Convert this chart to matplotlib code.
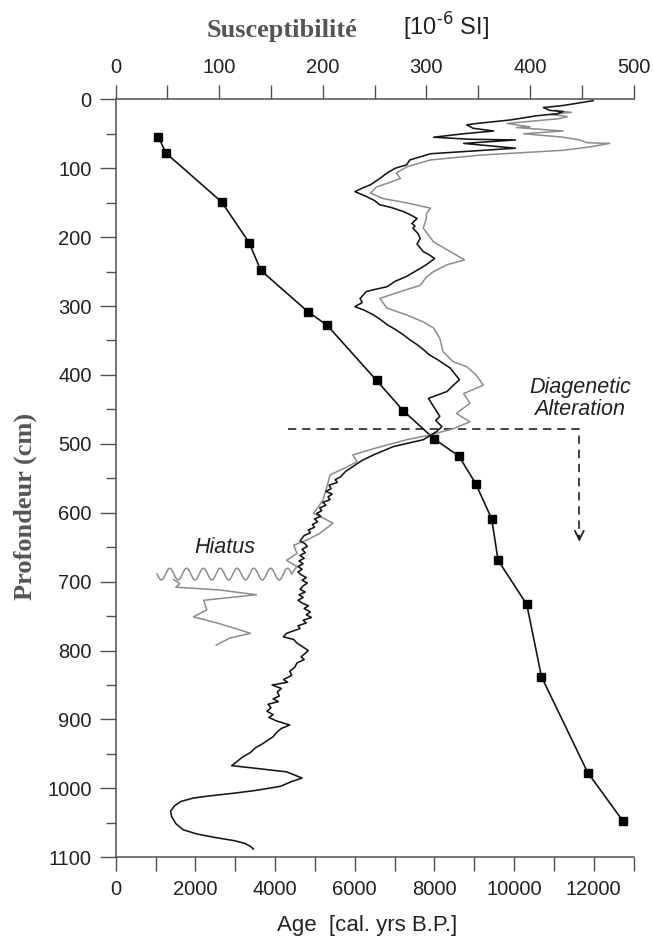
import numpy as np
import matplotlib
matplotlib.use("Agg")
import matplotlib.pyplot as plt

# ---------------- data ----------------
# Age-depth model (cal. yrs B.P. vs depth cm)
age_years = [1070, 1260, 2660, 3350, 3640, 4820, 5310, 6550, 7220, 8000,
             8620, 9040, 9440, 9600, 10320, 10690, 11850, 12730]
age_depth = [54, 78, 149, 208, 248, 308, 328, 408, 452, 493,
             518, 558, 609, 669, 733, 838, 977, 1047]

# Susceptibility, black record (10^-6 SI) vs depth (cm)
black_sus = [461, 432, 413, 419, 432, 426, 406, 381, 349, 339, 345, 365, 336, 307, 342, 386, 336, 386,
             304, 295, 284, 281, 270, 262, 255, 246, 238, 231, 242, 250, 255, 266, 278, 285, 291, 286,
             289, 287, 292, 294, 291, 297, 303, 308, 300, 291, 281, 270, 262, 250, 242, 236, 238, 231,
             240, 249, 256, 262, 270, 278, 284, 291, 297, 303, 310, 316, 323, 332, 326, 320, 302, 307,
             313, 309, 315, 310, 297, 268, 249, 238, 229, 222,
             217, 212, 214, 206, 208, 203, 209, 205, 207, 200, 203, 197, 199, 194, 198, 192, 195, 190,
             192, 186, 188, 182, 180, 178, 183, 185, 180, 183, 178, 182, 177, 181, 176, 180, 176, 179,
             184, 180, 185, 181, 178, 183, 177, 181, 176, 180, 186, 182, 188, 184, 189, 181, 184, 176,
             178, 165, 162, 172, 175, 181, 186, 183, 179, 182, 175, 173, 168, 170, 162, 166, 151, 160,
             156, 158, 152, 157, 147, 150, 146, 152, 148, 155, 168, 160, 156, 152, 147, 141, 135, 130,
             122, 118, 112, 136, 165, 180, 170, 159, 135, 114, 90, 75, 63, 57, 53, 54, 58, 65, 78, 95,
             115, 125, 130, 133]
black_depth = [2, 9, 12, 16, 18, 21, 24, 30, 35, 37, 42, 46, 50, 55, 58, 59, 64, 71,
               79, 83, 88, 95, 100, 107, 115, 124, 129, 134, 141, 147, 153, 157, 163, 168, 173, 180,
               184, 187, 195, 202, 210, 221, 226, 231, 240, 248, 257, 264, 272, 276, 279, 289, 295, 301,
               306, 313, 320, 327, 334, 342, 349, 356, 363, 371, 377, 383, 390, 407, 415, 424, 434, 446,
               460, 466, 475, 482, 494, 504, 516, 524, 533, 540,
               548, 552, 556, 560, 565, 569, 573, 577, 581, 585, 589, 593, 597, 601, 605, 609, 613, 617,
               621, 625, 629, 633, 637, 641, 645, 649, 653, 658, 662, 666, 670, 674, 678, 682, 686, 690,
               694, 698, 702, 706, 711, 715, 719, 723, 727, 731, 735, 739, 744, 748, 752, 756, 760, 764,
               768, 775, 780, 784, 789, 795, 800, 804, 809, 813, 818, 824, 830, 836, 842, 846, 850, 855,
               860, 866, 870, 874, 878, 883, 888, 893, 897, 902, 908, 913, 918, 925, 930, 936, 941, 948,
               955, 960, 967, 971, 976, 985, 990, 997, 1003, 1007, 1011, 1014, 1019, 1025, 1033, 1041, 1051, 1060, 1066, 1071,
               1076, 1080, 1084, 1088]

# Susceptibility, grey record, upper part (above hiatus)
grey_sus = [425, 440, 420, 436, 429, 378, 400, 387, 432, 394, 432, 448, 455, 477, 458, 432, 352, 304,
            281, 271, 275, 262, 252, 246, 258, 280, 304, 300, 300, 297, 302, 307, 315, 323, 337, 320,
            307, 300, 294, 275, 255, 262, 281, 297, 307, 313, 316, 326, 339, 348, 355, 336, 342, 329,
            342, 326, 304, 281, 249, 229, 233, 220, 207, 204, 200, 191, 210, 197, 184, 172, 175, 165,
            175, 170]
grey_depth = [16, 19, 22, 25, 28, 35, 40, 41, 46, 50, 55, 59, 63, 64, 69, 74, 81, 88,
              98, 107, 115, 122, 127, 136, 144, 150, 158, 166, 173, 187, 197, 207, 214, 221, 233, 240,
              250, 258, 270, 279, 289, 303, 313, 323, 332, 347, 366, 381, 388, 400, 415, 427, 441, 456,
              468, 478, 487, 494, 507, 516, 526, 536, 545, 562, 582, 601, 615, 630, 640, 647, 659, 669,
              678, 688]

# Grey record below the hiatus
grey_low_sus = [56, 62, 58, 100, 136, 85, 88, 75, 98, 120, 130, 110, 97]
grey_low_depth = [697, 703, 708, 712, 719, 727, 741, 751, 760, 770, 775, 782, 792]

# ---------------- figure ----------------
W, H = 654, 943
fig = plt.figure(figsize=(W / 100, H / 100), dpi=100)
x0, x1, y0, y1 = 115.7, 633.5, 99.3, 857.3
ax = fig.add_axes([x0 / W, 1 - y1 / H, (x1 - x0) / W, (y1 - y0) / H])
ax2 = ax.twiny()

spine_c = "#505050"
lab_c = "#222222"
sans = ["Liberation Sans", "DejaVu Sans"]
serif = ["Liberation Serif", "DejaVu Serif"]
tick_font = dict(family=sans, size=14.5)

ax.set_xlim(0, 13000)
ax.set_ylim(1100, 0)
ax2.set_xlim(0, 500)

for s in ["right", "top"]:
    ax.spines[s].set_visible(False)
for s in ["right", "left", "bottom"]:
    ax2.spines[s].set_visible(False)
for a, s in [(ax, "left"), (ax, "bottom"), (ax2, "top")]:
    a.spines[s].set_color(spine_c)
    a.spines[s].set_linewidth(1.1)

# bottom axis ticks
xt = list(range(0, 13001, 1000))
ax.set_xticks(xt)
ax.set_xticklabels([str(v) if v % 2000 == 0 else "" for v in xt], **tick_font, color=lab_c)
ax.tick_params(axis="x", direction="out", length=10.4, width=1, color=spine_c, pad=6)

# left axis ticks
ax.set_yticks(range(0, 1101, 100))
ax.set_yticks(range(50, 1100, 100), minor=True)
ax.set_yticklabels([str(v) for v in range(0, 1101, 100)], **tick_font, color=lab_c)
ax.tick_params(axis="y", which="major", direction="out", length=11.3, width=1, color=spine_c, pad=6)
ax.tick_params(axis="y", which="minor", direction="out", length=7, width=1, color=spine_c)

# top axis ticks
st = list(range(0, 501, 50))
ax2.set_xticks(st)
ax2.set_xticklabels([str(v) if v % 100 == 0 else "" for v in st], **tick_font, color=lab_c)
ax2.tick_params(axis="x", direction="out", length=10.4, width=1, color=spine_c, pad=6)

# susceptibility curves
ax2.plot(grey_sus, grey_depth, color="#8c8c8c", lw=1.1, zorder=2)
ax2.plot(grey_low_sus, grey_low_depth, color="#8c8c8c", lw=1.1, zorder=2)
ax2.plot(black_sus, black_depth, color="#151515", lw=1.15, zorder=3)

# hiatus symbol (decorative wavy line)
wx = np.linspace(40, 170, 300)
wy = 689 + 8.5 * np.sin((wx - 40) / 130 * 8 * 2 * np.pi)
ax2.plot(wx, wy, color="#8c8c8c", lw=1.1, zorder=2)
ax2.text(105, 651, "Hiatus", ha="center", va="center", style="italic",
         family=sans, size=15.5, color="#222222")

# age-depth model
ax.plot(age_years, age_depth, color="#151515", lw=1.2, marker="s", ms=6.2,
        mfc="black", mec="black", zorder=4)

# diagenetic alteration annotation
ax.plot([4320, 11640, 11640], [478, 478, 640], color="#222222", lw=1.2,
        dashes=(5, 3.5), zorder=3)
ax.annotate("", xy=(11640, 646), xytext=(11640, 630),
            arrowprops=dict(arrowstyle="->", lw=1.3, color="#222222", mutation_scale=16))
ax.text(11650, 434, "Diagenetic\nAlteration", ha="center", va="center", style="italic",
        family=sans, size=15.5, color="#222222", linespacing=1.1)

# titles / labels
fig.text(282 / W, 1 - 30 / H, "Susceptibilité", ha="center", va="center",
         family=serif, weight="bold", size=19, color="#555555")
fig.text(446 / W, 1 - 27 / H, r"[10$^{\text{-6}}$ SI]", ha="center", va="center",
         family=sans, size=17, color="#222222")
fig.text(25 / W, 1 - 506 / H, "Profondeur (cm)", ha="center", va="center", rotation=90,
         family=serif, weight="bold", size=19, color="#555555")
fig.text(367 / W, 1 - 926 / H, "Age  [cal. yrs B.P.]", ha="center", va="center",
         family=sans, size=16, color="#222222")

fig.savefig("out.png", dpi=100)
